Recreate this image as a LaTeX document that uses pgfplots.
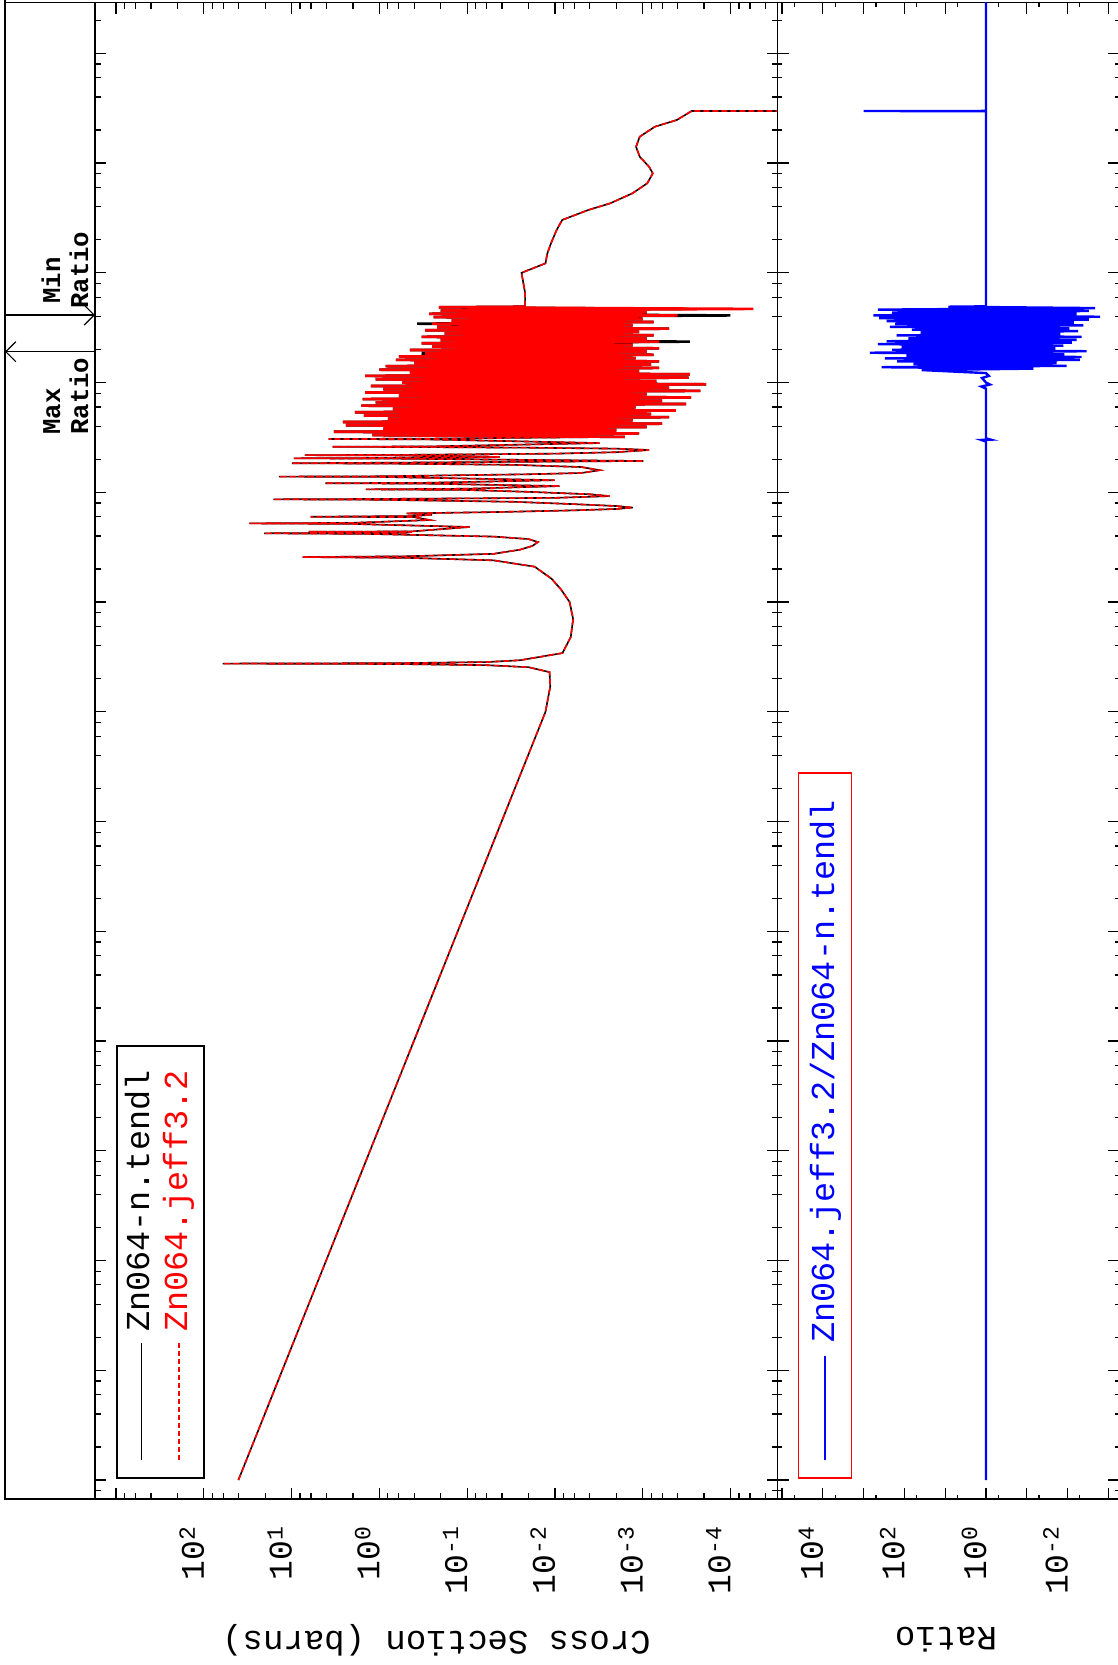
\documentclass[border=0pt]{standalone}
\usepackage{fontspec}
\setmainfont{Liberation Mono}
\usepackage{pgfplots}
\pgfplotsset{compat=1.18}
\usepackage{pgfplotstable}
\usetikzlibrary{arrows.meta}

% cross section (barns) vs energy (eV): low energy part, shared
\pgfplotstableread{
s e
40.3 1e-5
0.0128 100
0.0113 170
0.0115 230
0.02 255
0.06 266
0.6 272.5
61 275
0.6 277.5
0.06 284
0.025 295
0.0082 343
0.0066 480
0.0062 700
0.0068 1000
0.0085 1300
0.0109 1630
0.017 2100
0.05 2400
0.5 2530
7.5 2570
0.5 2610
0.05 2750
0.025 3000
0.018 3250
0.0156 3520
0.02 3750
0.05 3950
1.4 4180
20.5 4230
1.4 4260
0.5 4300
0.43 4345
6.4 4370
0.43 4400
0.094 4830
2 5150
30.2 5210
2 5270
0.268 5590
0.4 5940
6.08 5990
0.4 6080
0.25 6250
0.49 6430
0.05 6600
0.006 6850
2e-3 7050
1.3e-3 7260
2e-3 7500
0.006 7800
0.03 8200
1.1 8560
16.1 8630
1.1 8700
0.01 8900
2.38e-3 9240
4e-3 9600
0.02 10100
0.1 10500
1.42 10640
0.1 10780
8.85e-3 11400
0.3 12000
4.13 12100
0.3 12200
0.0101 12900
0.9 13800
13.9 13900
0.9 14000
0.02 14600
5e-3 15000
3.1e-3 15900
5e-3 17000
0.03 17800
0.7 18250
9.9 18400
0.3 18700
9.8e-4 19300
0.6 20250
9.4 20400
0.5 20600
0.0427 21000
0.45 21650
7.05 21800
0.45 21950
0.01 22500
2e-3 23200
8.45e-4 24300
2e-3 25000
0.02 25500
0.25 25800
3.41 26000
0.25 26200
3.1e-3 28100
0.28 30350
3.79 30600
0.28 30850
1.6e-3 3.2e4
}\lowE

\pgfplotstableread{
s e
1.6e-3 3.2e4
1.2 3.32e4
1.1e-3 3.44e4
3.3 3.56e4
2.0e-3 3.68e4
0.9 3.81e4
9e-4 3.94e4
2.4 4.08e4
6e-4 4.22e4
2.6 4.37e4
1.3e-3 4.52e4
0.8 4.68e4
5e-4 4.84e4
1.5 5.01e4
8e-4 5.19e4
1.9 5.37e4
4.2e-4 5.56e4
0.7 5.75e4
1.2e-3 5.95e4
1.6 6.16e4
3.2e-4 6.38e4
1.1 6.6e4
6e-4 6.83e4
1.55 7.07e4
2.8e-4 7.32e4
0.6 7.58e4
9e-4 7.84e4
1.45 8.12e4
2.2e-4 8.4e4
0.9 8.69e4
5e-4 9.0e4
1.25 9.31e4
1.9e-4 9.64e4
0.55 9.98e4
7e-4 1.03e5
1.1 1.07e5
3e-4 1.11e5
1.45 1.15e5
2.9e-4 1.19e5
0.45 1.23e5
1.1e-3 1.27e5
1.0 1.31e5
6.5e-4 1.36e5
0.85 1.41e5
8e-4 1.46e5
0.4 1.51e5
6.5e-4 1.56e5
0.65 1.61e5
1.2e-3 1.67e5
0.6 1.73e5
7.5e-4 1.79e5
0.3 1.85e5
9e-4 1.92e5
0.45 1.98e5
6.5e-4 2.05e5
0.25 2.13e5
1.3e-3 2.2e5
0.33 2.28e5
6.5e-4 2.36e5
0.2 2.44e5
9e-4 2.52e5
0.33 2.61e5
7.5e-4 2.7e5
0.18 2.8e5
1.1e-3 2.9e5
0.3 3.0e5
5e-4 3.1e5
0.22 3.21e5
1.3e-3 3.32e5
0.25 3.44e5
7.5e-4 3.56e5
0.15 3.68e5
1e-3 3.81e5
0.24 3.95e5
4e-4 4.09e5
0.27 4.23e5
9e-4 4.38e5
0.2 4.53e5
5.5e-5 4.69e5
0.21 4.85e5
0.0218 4.91e5
}\denseR

\pgfplotstableread{
s e
1.6e-3 3.2e4
1.2 3.32e4
1.1e-3 3.44e4
3.3 3.56e4
2.0e-3 3.68e4
0.9 3.81e4
9e-4 3.94e4
2.4 4.08e4
6e-4 4.22e4
2.6 4.37e4
1.3e-3 4.52e4
0.8 4.68e4
5e-4 4.84e4
1.5 5.01e4
8e-4 5.19e4
1.9 5.37e4
4.2e-4 5.56e4
0.7 5.75e4
1.2e-3 5.95e4
1.6 6.16e4
3.2e-4 6.38e4
1.1 6.6e4
6e-4 6.83e4
1.55 7.07e4
2.8e-4 7.32e4
0.6 7.58e4
9e-4 7.84e4
1.45 8.12e4
2.2e-4 8.4e4
0.9 8.69e4
5e-4 9.0e4
1.25 9.31e4
1.9e-4 9.64e4
0.55 9.98e4
7e-4 1.03e5
1.1 1.07e5
3e-4 1.11e5
1.45 1.15e5
2.9e-4 1.19e5
0.45 1.23e5
1.1e-3 1.27e5
1.0 1.31e5
6.5e-4 1.36e5
0.85 1.41e5
8e-4 1.46e5
0.4 1.51e5
6.5e-4 1.56e5
0.65 1.61e5
1.2e-3 1.67e5
0.6 1.73e5
7.5e-4 1.79e5
0.33 1.85e5
9e-4 1.92e5
0.45 1.98e5
6.5e-4 2.05e5
0.25 2.13e5
1.3e-3 2.2e5
0.33 2.28e5
2.9e-4 2.36e5
0.2 2.44e5
9e-4 2.52e5
0.33 2.61e5
7.5e-4 2.7e5
0.18 2.8e5
1.1e-3 2.9e5
0.3 3.0e5
5e-4 3.1e5
0.22 3.21e5
1.3e-3 3.32e5
0.37 3.44e5
7.5e-4 3.56e5
0.15 3.68e5
1e-3 3.81e5
0.24 3.95e5
1.0e-4 4.09e5
0.27 4.23e5
9e-4 4.38e5
0.2 4.53e5
3e-4 4.69e5
0.21 4.85e5
0.0218 4.91e5
}\denseB

\pgfplotstableread{
s e
0.0218 4.91e5
0.0218 6.5e5
0.024 1.0e6
0.0128 1.22e6
0.0122 1.5e6
0.0111 1.85e6
0.00957 2.45e6
0.00826 3.03e6
0.00419 3.73e6
0.00234 4.3e6
0.00131 5.3e6
0.000889 6.53e6
0.000767 8.05e6
0.000845 9.25e6
0.00108 1.14e7
0.00119 1.41e7
0.00108 1.74e7
0.000731 2.14e7
0.000408 2.47e7
0.000277 2.98e7
1e-6 2.98e7
}\highE

% ratio jeff3.2 / tendl vs energy (eV)
\pgfplotstableread{
r e
1 1e-5
1 2.9e4
1.3 3.0e4
0.77 3.02e4
1 3.1e4
1 8.8e4
1.3 9.2e4
0.8 9.6e4
1 1.0e5
1.25 1.1e5
0.85 1.15e5
1 1.22e5
38 1.30e5
0.069 1.34e5
360 1.38e5
0.0105 1.42e5
60 1.47e5
0.0185 1.51e5
150 1.56e5
0.005 1.61e5
300 1.66e5
0.0045 1.71e5
90 1.76e5
0.012 1.81e5
700 1.87e5
0.0034 1.93e5
200 1.99e5
0.02 2.05e5
117 2.11e5
0.0127 2.17e5
450 2.24e5
0.0079 2.31e5
272 2.38e5
0.006 2.45e5
80 2.53e5
0.0045 2.61e5
155 2.69e5
0.015 2.77e5
40 2.85e5
0.0055 2.94e5
66 3.03e5
0.009 3.12e5
226 3.22e5
0.0041 3.32e5
170 3.42e5
0.007 3.52e5
272 3.63e5
0.003 3.74e5
420 3.86e5
0.0016 3.98e5
580 4.10e5
0.006 4.22e5
200 4.35e5
0.003 4.49e5
450 4.62e5
0.0021 4.77e5
8.4 4.91e5
1 4.95e5
1 2.975e7
1000 2.98e7
1 2.985e7
1 5e8
}\ratio

\pgfplotsset{
  mypanel/.style={
    scale only axis, anchor=south west,
    height=1496.3bp,
    x dir=reverse,
    ymin=6.714e-6, ymax=2.891e8,
    ytick={1e-5,1e-4,1e-3,1e-2,1e-1,1,10,100,1e3,1e4,1e5,1e6,1e7,1e8},
    minor ytick={8e-6,2e-5,4e-5,6e-5,8e-5,2e-4,4e-4,6e-4,8e-4,2e-3,4e-3,6e-3,8e-3,2e-2,4e-2,6e-2,8e-2,0.2,0.4,0.6,0.8,2,4,6,8,20,40,60,80,200,400,600,800,2e3,4e3,6e3,8e3,2e4,4e4,6e4,8e4,2e5,4e5,6e5,8e5,2e6,4e6,6e6,8e6,2e7,4e7,6e7,8e7,2e8},
    yticklabels={},
    yticklabel style={opacity=0},
    axis line style={line width=1.3bp},
    every tick/.append style={line width=1.2bp, black},
    major tick length=11bp, minor tick length=6bp,
    tick align=inside,
    xticklabel style={font=\fontsize{33bp}{36bp}\selectfont, rotate=90, anchor=base east, inner sep=0pt, xshift=3bp},
    xticklabel shift=30bp,
  }
}

\begin{document}
\begin{tikzpicture}
\useasboundingbox (0bp,0bp) rectangle (1118bp,-1665bp);

% cross-section panel
\begin{loglogaxis}[mypanel, at={(95bp,-1499bp)}, width=682.7bp,
  xmin=2.897e-5, xmax=1734,
  xtick={1e-4,1e-3,1e-2,1e-1,1,10,100,1000},
  xticklabels={10\textsuperscript{-4},10\textsuperscript{-3},10\textsuperscript{-2},10\textsuperscript{-1},10\textsuperscript{0},10\textsuperscript{1},10\textsuperscript{2},{}},
  minor xtick={4e-5,6e-5,8e-5,2e-4,4e-4,6e-4,8e-4,2e-3,4e-3,6e-3,8e-3,2e-2,4e-2,6e-2,8e-2,0.2,0.4,0.6,0.8,2,4,6,8,20,40,60,80,200,400,600,800},
]
\addplot[black, line width=1.6bp] table[x=s, y=e] {\lowE};
\addplot[black, line width=2.6bp] table[x=s, y=e] {\denseB};
\addplot[black, line width=1.6bp] table[x=s, y=e] {\highE};
\addplot[red, line width=1.6bp, dash pattern=on 6bp off 3bp] table[x=s, y=e] {\lowE};
\addplot[red, line width=2.6bp] table[x=s, y=e] {\denseR};
\addplot[red, line width=1.6bp, dash pattern=on 6bp off 3bp] table[x=s, y=e] {\highE};
\end{loglogaxis}

% ratio panel
\begin{loglogaxis}[mypanel, at={(777.7bp,-1499bp)}, width=341.3bp,
  xmin=5.48e-4, xmax=1.28e5,
  xtick={1e-3,1e-2,1e-1,1,10,100,1e3,1e4,1e5},
  xticklabels={{},10\textsuperscript{-2},{},10\textsuperscript{0},{},10\textsuperscript{2},{},10\textsuperscript{4},{}},
  minor xtick={5e-3,5e-2,0.5,5,50,500,5e3,5e4},
  minor tick length=4bp,
]
\addplot[blue, line width=2.4bp] table[x=r, y=e] {\ratio};
\end{loglogaxis}

% frame of the annotation strip
\draw[line width=1.3bp] (5bp,0bp) -- (5bp,-1499bp) -- (95bp,-1499bp);
\draw[line width=1.3bp] (5bp,-2.7bp) -- (95bp,-2.7bp);
% min / max ratio markers
\draw[line width=1.2bp, -{Straight Barb[length=10bp,width=20bp,line width=1.2bp]}] (5bp,-315bp) -- (95bp,-315bp);
\draw[line width=1.2bp, -{Straight Barb[length=10bp,width=20bp,line width=1.2bp]}] (95bp,-351.7bp) -- (5bp,-351.7bp);
\begin{scope}[every node/.style={rotate=90, anchor=base west, inner sep=0pt, font=\fontsize{25.7bp}{28bp}\selectfont\bfseries}]
\node at (60bp,-304bp) {Min};
\node at (88bp,-309bp) {Ratio};
\node at (60bp,-435bp) {Max};
\node at (88bp,-435bp) {Ratio};
\end{scope}

% legend of the cross-section panel
\draw[line width=1.5bp] (117bp,-1046bp) rectangle (204bp,-1478bp);
\draw[line width=1.5bp] (141.7bp,-1343bp) -- (141.7bp,-1460bp);
\draw[red, line width=1.5bp, dash pattern=on 5bp off 3bp] (179bp,-1343bp) -- (179bp,-1460bp);
\begin{scope}[every node/.style={rotate=90, anchor=base west, inner sep=0pt, font=\fontsize{33.5bp}{36bp}\selectfont}]
\node at (149bp,-1332bp) {Zn064-n.tendl};
\node[red] at (187bp,-1332bp) {Zn064.jeff3.2};
\end{scope}

% legend of the ratio panel
\draw[red, line width=1.5bp] (798.5bp,-773bp) rectangle (851.6bp,-1478bp);
\draw[blue, line width=1.5bp] (825bp,-1356bp) -- (825bp,-1460bp);
\node[blue, rotate=90, anchor=base west, inner sep=0pt, font=\fontsize{33.5bp}{36bp}\selectfont] at (834bp,-1343bp) {Zn064.jeff3.2/Zn064-n.tendl};

% axis titles
\node[rotate=180, font=\fontsize{34bp}{38bp}\selectfont] at (436.5bp,-1640bp) {Cross Section (barns)};
\node[rotate=180, font=\fontsize{34bp}{38bp}\selectfont] at (946bp,-1640bp) {Ratio};
\end{tikzpicture}
\end{document}
